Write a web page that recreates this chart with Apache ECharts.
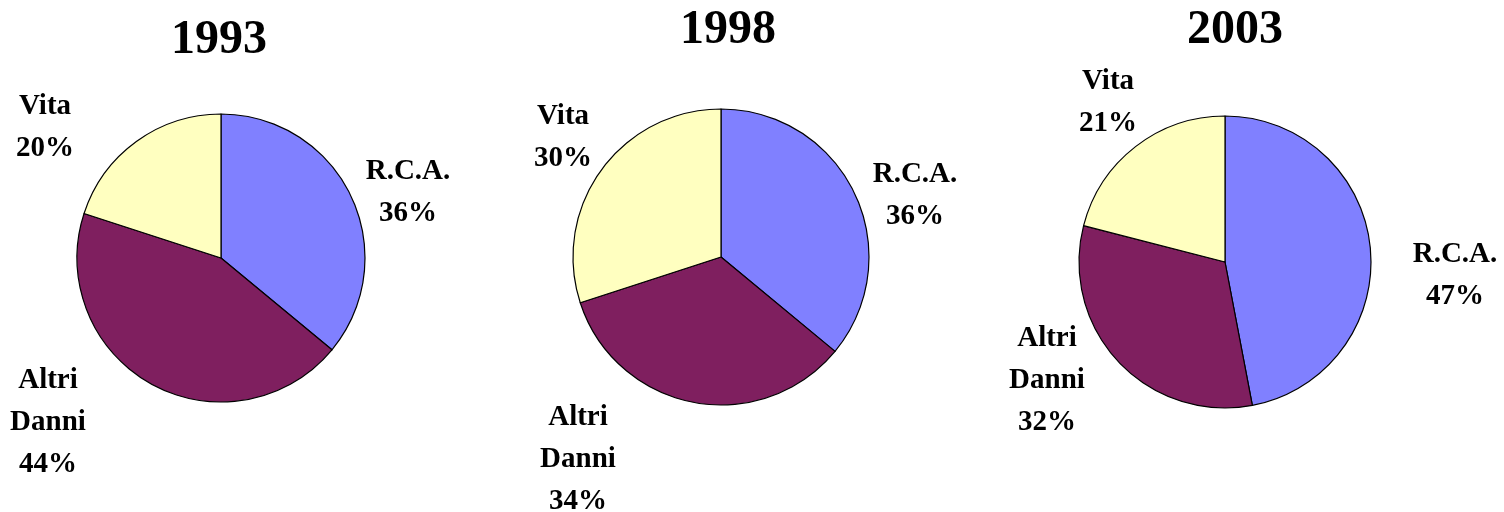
<!DOCTYPE html>
<html>
<head>
<meta charset="utf-8">
<script src="https://cdn.jsdelivr.net/npm/echarts@6/dist/echarts.min.js"></script>
<style>
  html, body { margin: 0; padding: 0; background: #fff; }
  #main { width: 1504px; height: 512px; }
</style>
</head>
<body>
<div id="main"></div>
<script>
var years = ['1993', '1998', '2003'];
var categories = ['R.C.A.', 'Altri Danni', 'Vita'];
var values1993 = [36, 44, 20];
var values1998 = [36, 34, 30];
var values2003 = [47, 32, 21];
var allValues = [values1993, values1998, values2003];

var colors = ['#8080FF', '#7F1F5F', '#FFFFC0'];
var font = '"Liberation Serif", "Times New Roman", serif';

// pie placement [cx, cy, radius] and label centres per slice
var pies = [
  { c: [221, 258], r: 144, title: [214, 12], labels: [[408, 193], [48, 423], [45, 128]] },
  { c: [721, 257], r: 148, title: [723, 2], labels: [[915, 196], [578, 460], [563, 138]] },
  { c: [1225, 262], r: 146, title: [1230, 2], labels: [[1455, 276], [1047, 381], [1108, 103]] }
];

var myChart = echarts.init(document.getElementById('main'));

var series = []
var titles = []
for (var i = 0; i < years.length; i++) {
  var p = pies[i]
  titles.push({
    text: years[i],
    left: p.title[0],
    top: p.title[1],
    textAlign: 'center',
    textStyle: { fontFamily: font, fontSize: 48, fontWeight: 'bold', color: '#000' }
  })
  series.push({
    type: 'pie',
    center: p.c,
    radius: p.r,
    startAngle: 90,
    clockwise: true,
    silent: true,
    animation: false,
    itemStyle: { borderColor: '#000', borderWidth: 1.2 },
    label: {
      show: true,
      position: 'outside',
      fontFamily: font,
      fontSize: 29,
      fontWeight: 'bold',
      lineHeight: 42,
      color: '#000',
      align: 'center',
      overflow: 'none',
      formatter: function (params) {
        return params.name.replace(' ', '\n') + '\n' + params.value + '%'
      }
    },
    labelLine: { show: false },
    labelLayout: (function (lab) {
      return function (params) {
        var pos = lab[params.dataIndex]
        return { x: pos[0], y: pos[1], align: 'center', verticalAlign: 'middle' }
      }
    })(p.labels),
    data: categories.map(function (name, k) {
      return { name: name, value: allValues[i][k], itemStyle: { color: colors[k] } }
    })
  })
}

myChart.setOption({
  backgroundColor: '#fff',
  title: titles,
  series: series
});
</script>
</body>
</html>
